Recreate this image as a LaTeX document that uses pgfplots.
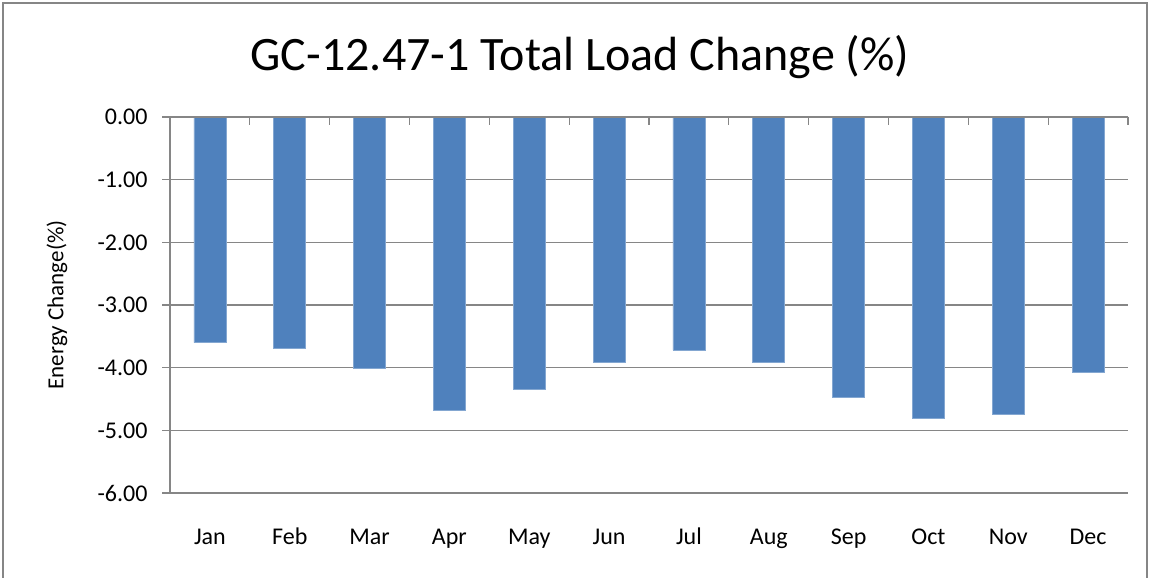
\documentclass[border=0pt]{standalone}
\usepackage{pgfplots}
\pgfplotsset{compat=1.18}
\usepackage{fontspec}
\setmainfont{Carlito}
\definecolor{barblue}{HTML}{4F81BD}
\definecolor{gridgray}{HTML}{868686}
\begin{document}
\begin{tikzpicture}[x=1pt,y=1pt]
\path[use as bounding box] (-170,-85) rectangle (979,493);
\draw[gridgray,line width=1.2pt] (-167,-90) -- (-167,490) -- (977,490) -- (977,-90);
\begin{axis}[
  at={(0,0)}, anchor=south west,
  scale only axis, width=958pt, height=376pt,
  xmin=-0.5, xmax=11.5, ymin=-6, ymax=0,
  ytick={-6,-5,-4,-3,-2,-1,0},
  ytick pos=left,
  /pgf/number format/fixed,
  /pgf/number format/fixed zerofill,
  /pgf/number format/precision=2,
  /pgf/number format/assume math mode=true,
  xtick={0,...,11},
  xticklabels={Jan,Feb,Mar,Apr,May,Jun,Jul,Aug,Sep,Oct,Nov,Dec},
  x tick label style={font=\fontsize{24}{28}\selectfont, text height=16pt, text depth=5pt, yshift=-24pt},
  y tick label style={font=\fontsize{24}{28}\selectfont, xshift=-11pt},
  axis line style={draw=none},
  x tick style={draw=none},
  y tick style={gridgray, line width=1.2pt},
  tick align=outside,
  major tick length=8pt,
  ymajorgrids,
  grid style={gridgray, line width=1.6pt},
  ylabel={Energy Change(\%)},
  ylabel style={font=\fontsize{23}{26}\selectfont, at={(axis description cs:-0.118,0.5)}, anchor=center},
  clip=false,
]
\addplot[ybar, bar width=32pt, fill=barblue, draw=barblue!70!white, line width=0.6pt] coordinates {
 (0,-3.60) (1,-3.69) (2,-4.01) (3,-4.68) (4,-4.35) (5,-3.91)
 (6,-3.72) (7,-3.91) (8,-4.48) (9,-4.81) (10,-4.74) (11,-4.07)};
\draw[gridgray, line width=1.6pt] (axis cs:-0.5,-6) -- (axis cs:-0.5,0);
\draw[gridgray, line width=1.6pt] (axis cs:-0.5,0) -- (axis cs:11.5,0);
\pgfplotsinvokeforeach{-0.5,0.5,1.5,2.5,3.5,4.5,5.5,6.5,7.5,8.5,9.5,10.5,11.5}{
  \draw[gridgray, line width=1.2pt] (axis cs:#1,0) -- ([yshift=-8pt]axis cs:#1,0);
}
\end{axis}
\node[font=\fontsize{48}{54}\selectfont] at (410,436) {GC-12.47-1 Total Load Change (\%)};
\end{tikzpicture}
\end{document}
